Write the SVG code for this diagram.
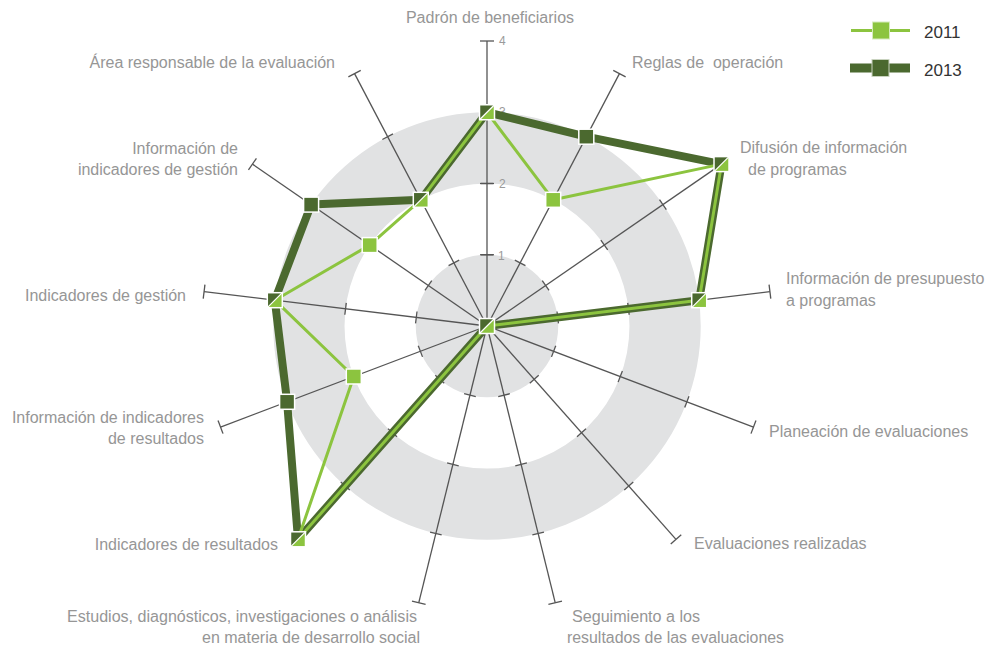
<svg xmlns="http://www.w3.org/2000/svg" xmlns:xlink="http://www.w3.org/1999/xlink" width="986" height="649" viewBox="0 0 986 649">
<style>
.lbl{font-family:"Liberation Sans",Arial,sans-serif;font-size:16px;fill:#969696;white-space:pre}
.num{font-family:"Liberation Sans",Arial,sans-serif;font-size:12px;fill:#9a9a9a}
.leg{font-family:"Liberation Sans",Arial,sans-serif;font-size:17px;fill:#333}
.ax{stroke:#555;stroke-width:1.3;fill:none}
.s13{fill:none;stroke:#4b692f;stroke-width:8;stroke-linejoin:round}
.s11{fill:none;stroke:#8cc43f;stroke-width:3;stroke-linejoin:round}
.m13{fill:#4b692f;stroke:#fff;stroke-width:1.5}
.m11{fill:#8cc43f;stroke:#fff;stroke-width:1.5}
</style>
<defs>
<g id="axis">
<line class="ax" x1="0" y1="0" x2="0" y2="-285"/>
<line class="ax" x1="-6" y1="-71.25" x2="6" y2="-71.25"/>
<line class="ax" x1="-6" y1="-142.5" x2="6" y2="-142.5"/>
<line class="ax" x1="-6" y1="-213.75" x2="6" y2="-213.75"/>
<line class="ax" x1="-7" y1="-285" x2="7" y2="-285"/>
</g>
<g id="mboth">
<rect x="-7.5" y="-7.5" width="15" height="15" fill="#4b692f"/>
<polygon points="7.5,-7.5 7.5,7.5 -7.5,7.5" fill="#8cc43f"/>
<line x1="-7.5" y1="7.5" x2="7.5" y2="-7.5" stroke="#fff" stroke-width="1.2"/>
<rect x="-7.5" y="-7.5" width="15" height="15" fill="none" stroke="#fff" stroke-width="1.5"/>
</g>
<rect id="m13" class="m13" x="-7.5" y="-7.5" width="15" height="15"/>
<rect id="m11" class="m11" x="-7.5" y="-7.5" width="15" height="15"/>
</defs>

<g id="grid">
<circle cx="487" cy="326" r="71.25" fill="#e1e2e3"/>
<circle cx="487" cy="326" r="178.1" fill="none" stroke="#e1e2e3" stroke-width="71.25"/>
</g>

<g id="axes">
<use xlink:href="#axis" transform="translate(487,326)"/>
<use xlink:href="#axis" transform="translate(487,326) rotate(27.692)"/>
<use xlink:href="#axis" transform="translate(487,326) rotate(55.385)"/>
<use xlink:href="#axis" transform="translate(487,326) rotate(83.077)"/>
<use xlink:href="#axis" transform="translate(487,326) rotate(110.769)"/>
<use xlink:href="#axis" transform="translate(487,326) rotate(138.462)"/>
<use xlink:href="#axis" transform="translate(487,326) rotate(166.154)"/>
<use xlink:href="#axis" transform="translate(487,326) rotate(193.846)"/>
<use xlink:href="#axis" transform="translate(487,326) rotate(221.538)"/>
<use xlink:href="#axis" transform="translate(487,326) rotate(249.231)"/>
<use xlink:href="#axis" transform="translate(487,326) rotate(276.923)"/>
<use xlink:href="#axis" transform="translate(487,326) rotate(304.615)"/>
<use xlink:href="#axis" transform="translate(487,326) rotate(332.308)"/>
<line class="ax" x1="480" y1="112.25" x2="494" y2="112.25"/>
<line class="ax" x1="480" y1="183.5" x2="494" y2="183.5"/>
<line class="ax" x1="480" y1="254.75" x2="494" y2="254.75"/>
<text class="num" x="499" y="45">4</text>
<text class="num" x="499" y="116">3</text>
<text class="num" x="499" y="188">2</text>
<text class="num" x="498" y="260">1</text>
</g>

<g id="connectors">
<polygon id="serie2013" class="s13" points="487,112.25 586.3,136.7 721.5,164.1 699.2,300.2 487,326 298,539.3 287.1,401.8 274.8,300.2 311.1,204.6 420.8,199.8"/>
<polygon id="serie2011" class="s11" points="487,112.25 553.2,199.8 721.5,164.1 699.2,300.2 487,326 298,539.3 353.8,376.5 274.8,300.2 369.7,245.1 420.8,199.8"/>
</g>

<g id="markers">
<use xlink:href="#mboth" x="487" y="112.25"/>
<use xlink:href="#m13" x="586.3" y="136.7"/>
<use xlink:href="#m11" x="553.2" y="199.8"/>
<use xlink:href="#mboth" x="721.5" y="164.1"/>
<use xlink:href="#mboth" x="699.2" y="300.2"/>
<use xlink:href="#mboth" x="487" y="326"/>
<use xlink:href="#mboth" x="298" y="539.3"/>
<use xlink:href="#m13" x="287.1" y="401.8"/>
<use xlink:href="#m11" x="353.8" y="376.5"/>
<use xlink:href="#mboth" x="274.8" y="300.2"/>
<use xlink:href="#m13" x="311.1" y="204.6"/>
<use xlink:href="#m11" x="369.7" y="245.1"/>
<use xlink:href="#mboth" x="420.8" y="199.8"/>
</g>

<g id="n-padron"><text class="lbl" x="490" y="23" text-anchor="middle">Padrón de beneficiarios</text></g>
<g id="n-reglas"><text class="lbl" x="632" y="68">Reglas de  operación</text></g>
<g id="n-difusion"><text class="lbl" x="740" y="153">Difusión de información</text><text class="lbl" x="748" y="175">de programas</text></g>
<g id="n-presupuesto"><text class="lbl" x="786" y="284">Información de presupuesto</text><text class="lbl" x="786" y="306">a programas</text></g>
<g id="n-planeacion"><text class="lbl" x="769" y="437">Planeación de evaluaciones</text></g>
<g id="n-evaluaciones"><text class="lbl" x="694" y="549">Evaluaciones realizadas</text></g>
<g id="n-seguimiento"><text class="lbl" x="572" y="622" textLength="128" lengthAdjust="spacingAndGlyphs">Seguimiento a los</text><text class="lbl" x="567" y="643" textLength="217" lengthAdjust="spacingAndGlyphs">resultados de las evaluaciones</text></g>
<g id="n-estudios"><text class="lbl" x="67" y="622" textLength="350" lengthAdjust="spacingAndGlyphs">Estudios, diagnósticos, investigaciones o análisis</text><text class="lbl" x="202" y="643" textLength="218" lengthAdjust="spacingAndGlyphs">en materia de desarrollo social</text></g>
<g id="n-ind-resultados"><text class="lbl" x="278" y="550" text-anchor="end">Indicadores de resultados</text></g>
<g id="n-info-ind-resultados"><text class="lbl" x="204" y="423" text-anchor="end">Información de indicadores</text><text class="lbl" x="204" y="444" text-anchor="end">de resultados</text></g>
<g id="n-ind-gestion"><text class="lbl" x="186" y="301" text-anchor="end">Indicadores de gestión</text></g>
<g id="n-info-ind-gestion"><text class="lbl" x="238" y="154" text-anchor="end">Información de</text><text class="lbl" x="238" y="175" text-anchor="end">indicadores de gestión</text></g>
<g id="n-area"><text class="lbl" x="335" y="68" text-anchor="end">Área responsable de la evaluación</text></g>

<g id="legend">
<line x1="851" y1="30.5" x2="910" y2="30.5" stroke="#8cc43f" stroke-width="3"/>
<rect x="872.5" y="22" width="17" height="17" fill="#8cc43f" stroke="#d6ebbd" stroke-width="1"/>
<text class="leg" x="924" y="38">2011</text>
<line x1="850" y1="68" x2="910" y2="68" stroke="#4b692f" stroke-width="9"/>
<rect x="872" y="59.5" width="17" height="17" fill="#4b692f" stroke="#c9d3bf" stroke-width="1"/>
<text class="leg" x="924" y="76">2013</text>
</g>
</svg>
